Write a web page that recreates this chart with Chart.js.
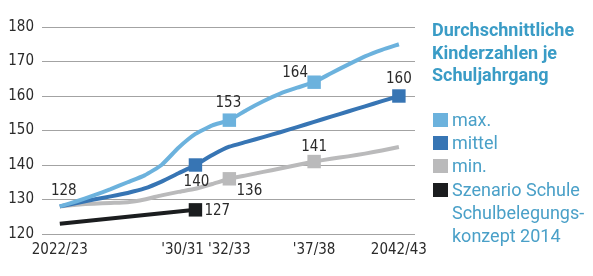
<!DOCTYPE html>
<html>
<head>
<meta charset="utf-8">
<script src="https://cdn.jsdelivr.net/npm/chart.js@4.4.1/dist/chart.umd.min.js"></script>
<style>
  html, body { margin: 0; padding: 0; background: #fff; }
  #wrap { position: relative; width: 593px; height: 276px; overflow: hidden; }
  #c { position: absolute; left: 0; top: 0; }
  #title { position: absolute; left: 432px; top: 19px; font: bold 18px Roboto, sans-serif; line-height: 22.7px; color: #3a9cc6; white-space: nowrap; }
  #legend { position: absolute; left: 433px; top: 108px; font: 18px Roboto, sans-serif; line-height: 23.2px; color: #4aa0c8; white-space: nowrap; }
  .row { position: relative; padding-left: 19px; }
  .sw { position: absolute; left: 0; top: 5px; width: 15px; height: 14px; }
</style>
</head>
<body>
<div id="wrap">
  <canvas id="c" width="593" height="276"></canvas>
  <div id="title">Durchschnittliche<br>Kinderzahlen je<br>Schuljahrgang</div>
  <div id="legend"></div>
</div>
<script>
// ---- data ----
const years = [2022,2023,2024,2025,2026,2027,2028,2029,2030,2031,2032,2033,2034,2035,2036,2037,2038,2039,2040,2041,2042];
const maxValues    = [128,129.5,131.2,133,135,137,140,145,149,151.5,153,155.9,158.5,160.7,162.4,164,166.6,169.1,171.5,173.4,175];
const mittelValues = [128,129,130,130.9,131.9,133.2,135.2,137.6,140,142.9,145.3,146.7,148.1,149.5,151,152.5,154,155.5,157,158.5,160];
const minValues    = [128,128.5,128.8,129,129.2,130,131.2,132.2,133.1,134.5,136,137,138,139,140,141,141.8,142.5,143.3,144.2,145.2];
const szenarioYears  = [2022, 2030];
const szenarioValues = [123, 127];
const maxMarkers = [2032, 2037];
const mittelMarkers = [2030, 2042];
const minMarkers = [2032, 2037];
const szenarioMarkers = [2030];
const xTickValues = [2022, 2030, 2032, 2037, 2042];
const xTickLabels = ['2022/23', "'30/31", "'32/33", "'37/38", '2042/43'];
const yTicks = [120, 130, 140, 150, 160, 170, 180];
const seriesNames = ['max.', 'mittel', 'min.', 'Szenario Schule\nSchulbelegungs-\nkonzept 2014'];

// ---- styles ----
const colors = ['#6cb2dd', '#3775b4', '#bababb', '#1b1d1f'];
const NUM_FONT = "'Liberation Sans Narrow', 'DejaVu Sans Condensed', Roboto, sans-serif";

function toPoints(xs, ys) { return xs.map((x, i) => ({ x: x, y: ys[i] })); }
function markerRadius(markers) {
  return ctx => (ctx.raw && markers.includes(ctx.raw.x)) ? 9.5 : 0;
}

// label placement (styles, not data): dataset index, year, dx, dy, align
const labelSpecs = [
  { ds: 1, year: 2022, dx: 4,   dy: -15, align: 'center' },
  { ds: 1, year: 2030, dx: 1,   dy: 17,  align: 'center' },
  { ds: 2, year: 2032, dx: 20,  dy: 12,  align: 'center' },
  { ds: 3, year: 2030, dx: 9,   dy: 1,   align: 'left' },
  { ds: 0, year: 2032, dx: -1,  dy: -17, align: 'center' },
  { ds: 0, year: 2037, dx: -19, dy: -9,  align: 'center' },
  { ds: 1, year: 2042, dx: 0,   dy: -17, align: 'center' },
  { ds: 2, year: 2037, dx: 0,   dy: -14, align: 'center' }
];

const labelPlugin = {
  id: 'valueLabels',
  afterDatasetsDraw(chart) {
    const ctx = chart.ctx;
    const xs = chart.scales.x, ys = chart.scales.y;
    ctx.save();
    ctx.font = '15px ' + NUM_FONT;
    ctx.fillStyle = '#2a2a2a';
    ctx.textBaseline = 'middle';
    labelSpecs.forEach(s => {
      const pt = chart.data.datasets[s.ds].data.find(p => p.x === s.year);
      if (!pt) return;
      const px = xs.getPixelForValue(pt.x) + s.dx;
      const py = ys.getPixelForValue(pt.y) + s.dy;
      ctx.textAlign = s.align;
      ctx.fillText(String(Math.round(pt.y)), px, py);
    });
    ctx.restore();
  }
};

const common = { borderWidth: 4, pointStyle: 'rect', pointBorderWidth: 0, pointHoverRadius: 0, tension: 0.15, fill: false };

new Chart(document.getElementById('c'), {
  type: 'line',
  data: {
    datasets: [
      Object.assign({ label: seriesNames[0], data: toPoints(years, maxValues), borderColor: colors[0], backgroundColor: colors[0], pointRadius: markerRadius(maxMarkers) }, common),
      Object.assign({ label: seriesNames[1], data: toPoints(years, mittelValues), borderColor: colors[1], backgroundColor: colors[1], pointRadius: markerRadius(mittelMarkers) }, common),
      Object.assign({ label: seriesNames[2], data: toPoints(years, minValues), borderColor: colors[2], backgroundColor: colors[2], pointRadius: markerRadius(minMarkers) }, common),
      Object.assign({ label: seriesNames[3], data: toPoints(szenarioYears, szenarioValues), borderColor: colors[3], backgroundColor: colors[3], pointRadius: markerRadius(szenarioMarkers) }, common)
    ]
  },
  options: {
    responsive: false,
    animation: false,
    events: [],
    layout: { padding: { left: 9, right: 178, top: 27, bottom: 10 } },
    plugins: { legend: { display: false }, tooltip: { enabled: false }, title: { display: false } },
    scales: {
      x: {
        type: 'linear',
        min: 2020.95, max: 2042.95,
        grid: { display: false, drawTicks: false },
        border: { display: false },
        afterBuildTicks: axis => { axis.ticks = xTickValues.map(v => ({ value: v })); },
        afterFit: axis => { axis.paddingLeft = 0; axis.paddingRight = 0; },
        ticks: {
          autoSkip: false, maxRotation: 0, padding: 7,
          color: '#2a2a2a',
          font: { family: NUM_FONT, size: 15 },
          callback: v => {
            const i = xTickValues.indexOf(v);
            if (i < 0) return '';
            return xTickLabels[i] + (v === 2030 ? '      ' : '');
          }
        }
      },
      y: {
        min: 120, max: 180,
        grid: { color: '#a3a3a3', lineWidth: 1, drawTicks: false },
        border: { display: false },
        afterBuildTicks: axis => { axis.ticks = yTicks.map(v => ({ value: v })); },
        afterFit: axis => { axis.width = 33; },
        ticks: { padding: 8, color: '#2a2a2a', font: { family: NUM_FONT, size: 15 } }
      }
    }
  },
  plugins: [labelPlugin]
});

// HTML legend
const leg = document.getElementById('legend');
seriesNames.forEach((name, i) => {
  const row = document.createElement('div');
  row.className = 'row';
  const sw = document.createElement('span');
  sw.className = 'sw';
  sw.style.background = colors[i];
  row.appendChild(sw);
  name.split('\n').forEach((line, j) => {
    if (j > 0) row.appendChild(document.createElement('br'));
    row.appendChild(document.createTextNode(line));
  });
  leg.appendChild(row);
});
</script>
</body>
</html>
